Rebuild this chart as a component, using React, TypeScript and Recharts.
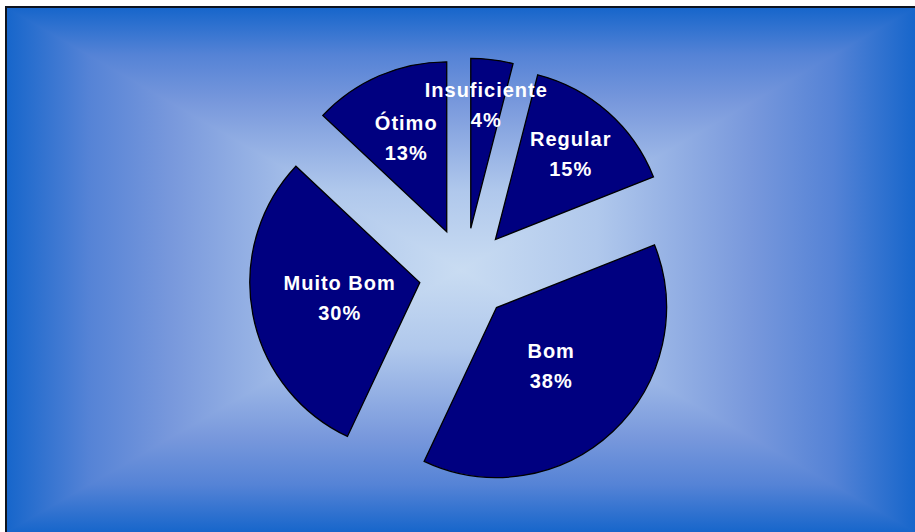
import React from "react";
import { PieChart, Pie, Sector } from "recharts";

// values
const categories = ["Insuficiente", "Regular", "Bom", "Muito Bom", "Ótimo"];
const shares = [4, 15, 38, 30, 13];

const chartData = categories.map((name, i) => ({ name, value: shares[i] }));

const W = 908;
const H = 524;
const CX = 453;
const CY = 261;
const RADIUS = 170;
const EXPLODE = 46;
const RAD = Math.PI / 180;

// how far along the bisector each label sits (fraction of radius)
const LABEL_DIST = [0.73, 0.67, 0.47, 0.48, 0.6];

const EDGE = "#1766cb";
const STOPS = `${EDGE} 0%, #5583d6 9%, #7898dc 18%, #b0c8ec 35%, #c9dcf2 50%`;
const STOPS_FULL = `${EDGE} 0%, #5583d6 9%, #7898dc 18%, #b0c8ec 35%, #c9dcf2 50%, #b0c8ec 65%, #7898dc 82%, #5583d6 91%, ${EDGE} 100%`;

// rectangular "from centre" gradient: vertical base plus left/right triangles
const BoxGradient = () => (
  <>
    <div style={{ position: "absolute", inset: 0, background: `linear-gradient(to bottom, ${STOPS_FULL})` }} />
    <div
      style={{
        position: "absolute",
        inset: 0,
        clipPath: "polygon(0 0, 0 100%, 50% 50%)",
        background: `linear-gradient(to right, ${STOPS}, #c9dcf2 100%)`,
      }}
    />
    <div
      style={{
        position: "absolute",
        inset: 0,
        clipPath: "polygon(100% 0, 100% 100%, 50% 50%)",
        background: `linear-gradient(to left, ${STOPS}, #c9dcf2 100%)`,
      }}
    />
  </>
);

const shift = (p: any) => ({
  ox: p.cx + EXPLODE * Math.cos(-p.midAngle * RAD),
  oy: p.cy + EXPLODE * Math.sin(-p.midAngle * RAD),
});

// exploded slice
const renderSector = (props: any) => {
  const { ox, oy } = shift(props);
  return (
    <Sector
      key={`sector-${props.index}`}
      cx={ox}
      cy={oy}
      innerRadius={0}
      outerRadius={props.outerRadius}
      startAngle={props.startAngle}
      endAngle={props.endAngle}
      fill="#000080"
      stroke="#000000"
      strokeWidth={1.3}
    />
  );
};

// label drawn on top of all slices
const renderLabel = (props: any) => {
  const { midAngle, outerRadius, percent, index, name } = props;
  const { ox, oy } = shift(props);
  const dist = outerRadius * LABEL_DIST[index];
  const lx = ox + dist * Math.cos(-midAngle * RAD);
  const ly = oy + dist * Math.sin(-midAngle * RAD);
  return (
    <text
      key={`label-${index}`}
      x={lx}
      textAnchor="middle"
      fill="#ffffff"
      stroke="none"
      fontFamily="'Liberation Sans', Arial, sans-serif"
      fontWeight="bold"
      fontSize={20}
      letterSpacing={1}
    >
      <tspan x={lx} y={ly - 15} dominantBaseline="central">
        {name}
      </tspan>
      <tspan x={lx} y={ly + 15} dominantBaseline="central">
        {`${Math.round(percent * 100)}%`}
      </tspan>
    </text>
  );
};

const App = () => {
  return (
    <div
      style={{
        position: "absolute",
        left: 5,
        top: 6,
        width: W + 2,
        height: H + 2,
        boxSizing: "border-box",
        borderTop: "2px solid #0d1420",
        borderLeft: "2px solid #0d1420",
        overflow: "hidden",
      }}
    >
      <div style={{ position: "relative", width: W, height: H }}>
        <BoxGradient />
        <div style={{ position: "absolute", left: 0, top: 0 }}>
          <PieChart width={W} height={H}>
            <Pie
              data={chartData}
              dataKey="value"
              nameKey="name"
              cx={CX}
              cy={CY}
              outerRadius={RADIUS}
              startAngle={90}
              endAngle={-270}
              fill="none"
              stroke="none"
              labelLine={false}
              label={renderSector}
              isAnimationActive={false}
            />
            <Pie
              data={chartData}
              dataKey="value"
              nameKey="name"
              cx={CX}
              cy={CY}
              outerRadius={RADIUS}
              startAngle={90}
              endAngle={-270}
              fill="none"
              stroke="none"
              labelLine={false}
              label={renderLabel}
              isAnimationActive={false}
            />
          </PieChart>
        </div>
      </div>
    </div>
  );
};

export default App;
